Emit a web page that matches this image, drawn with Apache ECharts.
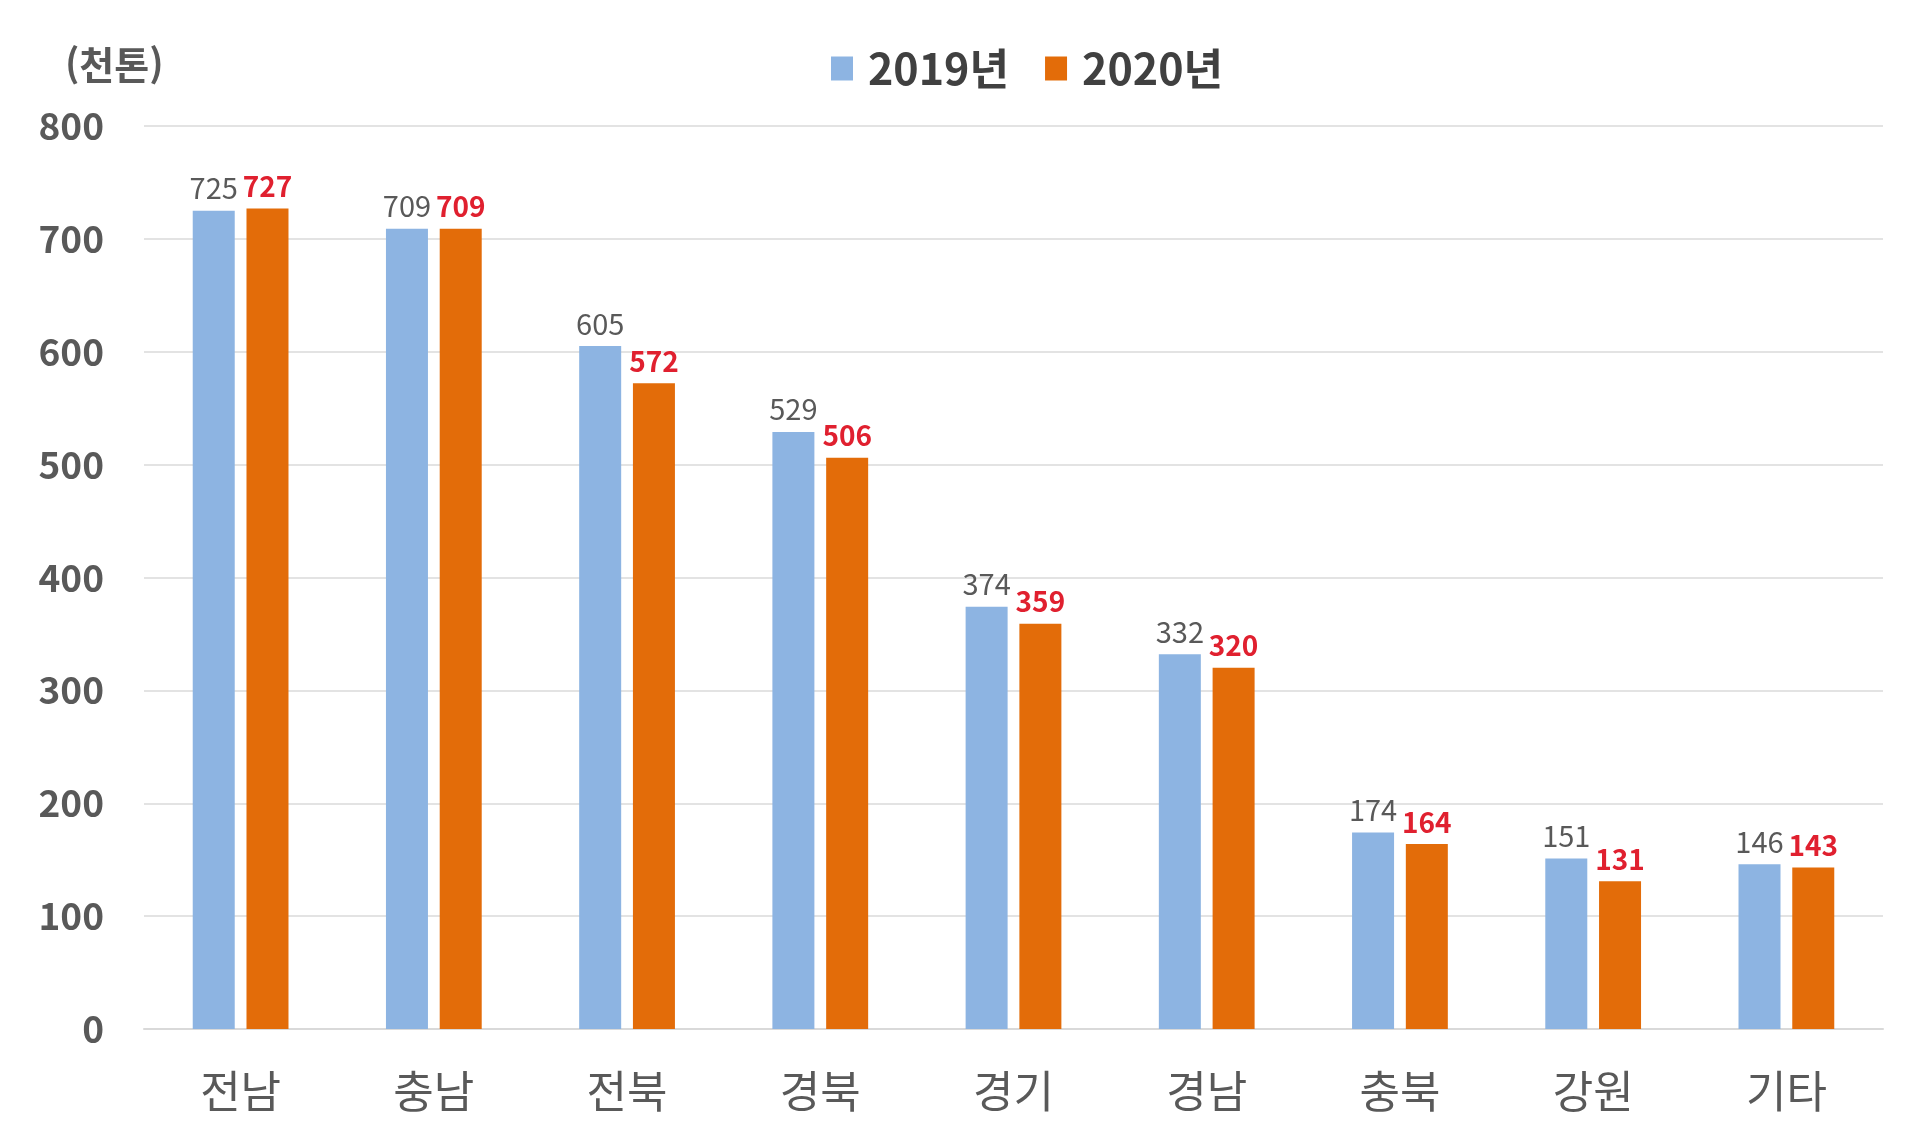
<!DOCTYPE html>
<html lang="ko">
<head>
    <meta charset="UTF-8">
    <title>지역별 생산량</title>
    <style>
        html, body { margin: 0; padding: 0; background: #fff; }
    </style>
</head>
<body>
<div id="main" style="width: 1920px;height:1137px;"></div>
<script type="text/javascript" src="https://cdn.jsdelivr.net/npm/echarts@6/dist/echarts.min.js"></script>
<script type="text/javascript">

    // 데이터
    var categories = ['전남', '충남', '전북', '경북', '경기', '경남', '충북', '강원', '기타'];
    var values2019 = [725, 709, 605, 529, 374, 332, 174, 151, 146];
    var values2020 = [727, 709, 572, 506, 359, 320, 164, 131, 143];
    var seriesNames = ['2019년', '2020년'];
    var unitLabel = '(천톤)';

    var font = '"Noto Sans CJK KR", "Noto Sans", sans-serif';

    var myChart = echarts.init(document.getElementById("main"));

    myChart.setOption({
        textStyle: { fontFamily: font },
        title: {
            text: unitLabel,
            left: 60,
            top: 41,
            textStyle: { fontSize: 38, fontWeight: 'bold', color: '#595959', fontFamily: font }
        },
        legend: {
            data: seriesNames,
            left: 826,
            top: 42,
            itemWidth: 22,
            itemHeight: 24,
            itemGap: 36,
            icon: 'rect',
            textStyle: { fontSize: 43, fontWeight: 'bold', color: '#404040', fontFamily: font, padding: [0, 0, 0, 10] }
        },
        grid: {
            left: 144,
            right: 37,
            top: 126,
            bottom: 108
        },
        xAxis: {
            type: 'category',
            data: categories,
            axisLine: { show: true, lineStyle: { color: '#d9d9d9', width: 2 } },
            axisTick: { show: false },
            axisLabel: { fontSize: 44, color: '#595959', margin: 40, fontFamily: font }
        },
        yAxis: {
            type: 'value',
            min: 0,
            max: 800,
            interval: 100,
            axisLine: { show: false },
            axisTick: { show: false },
            splitLine: { lineStyle: { color: '#e3e3e3', width: 2 } },
            axisLabel: { fontSize: 37, fontWeight: 'bold', color: '#595959', margin: 40, fontFamily: font }
        },
        series: [
            {
                name: seriesNames[0],
                type: 'bar',
                data: values2019,
                barWidth: 42,
                barGap: '28%',
                itemStyle: { color: '#8db4e2' },
                label: {
                    show: true,
                    position: 'top',
                    distance: 8,
                    fontSize: 29,
                    color: '#595959',
                    fontFamily: font
                }
            },
            {
                name: seriesNames[1],
                type: 'bar',
                data: values2020,
                barWidth: 42,
                itemStyle: { color: '#e36c09' },
                label: {
                    show: true,
                    position: 'top',
                    distance: 8,
                    fontSize: 28,
                    fontWeight: 'bold',
                    color: '#e0202f',
                    fontFamily: font
                }
            }
        ]
    });
</script>
</body>
</html>
